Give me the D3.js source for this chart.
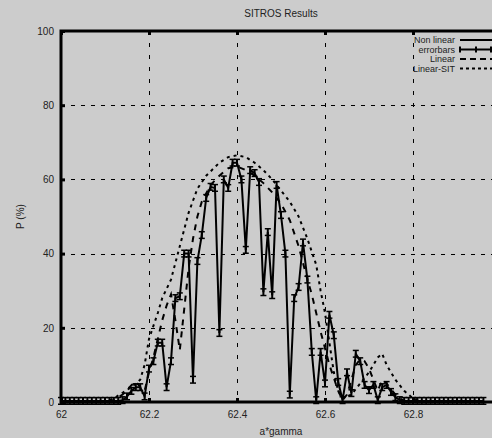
<!DOCTYPE html>
<html>
<head>
<meta charset="utf-8">
<script src="https://cdn.jsdelivr.net/npm/d3@7"></script>
<style>
  body { margin: 0; background: #cccccc; }
  svg { display: block; font-family: "Liberation Sans", Arial, sans-serif; }
</style>
</head>
<body>
<div id="chart"></div>
<script>
// values
var xTicks = [62, 62.2, 62.4, 62.6, 62.8];
var yTicks = [0, 20, 40, 60, 80, 100];
var legendNames = ['Non linear', 'errorbars', 'Linear', 'Linear-SIT'];

// non linear result, one point every 0.01
var nlX = [62.00, 62.01, 62.02, 62.03, 62.04, 62.05, 62.06, 62.07, 62.08, 62.09,
  62.10, 62.11, 62.12, 62.13, 62.14, 62.15, 62.16, 62.17, 62.18, 62.19,
  62.20, 62.21, 62.22, 62.23, 62.24, 62.25, 62.26, 62.27, 62.28, 62.29,
  62.30, 62.31, 62.32, 62.33, 62.34, 62.35, 62.36, 62.37, 62.38, 62.39,
  62.40, 62.41, 62.42, 62.43, 62.44, 62.45, 62.46, 62.47, 62.48, 62.49,
  62.50, 62.51, 62.52, 62.53, 62.54, 62.55, 62.56, 62.57, 62.58, 62.59,
  62.60, 62.61, 62.62, 62.63, 62.64, 62.65, 62.66, 62.67, 62.68, 62.69,
  62.70, 62.71, 62.72, 62.73, 62.74, 62.75, 62.76, 62.77, 62.78, 62.79,
  62.80, 62.81, 62.82, 62.83, 62.84, 62.85, 62.86, 62.87, 62.88, 62.89,
  62.90, 62.91, 62.92, 62.93, 62.94, 62.95, 62.96];
var nlY = [0.3, 0.3, 0.3, 0.3, 0.3, 0.3, 0.3, 0.3, 0.3, 0.3,
  0.3, 0.3, 0.3, 0.3, 0.5, 1.5, 3, 4, 4, 1.5,
  9, 11, 16, 16, 4, 11, 28, 28.5, 40, 40,
  6, 38, 45, 55, 58, 57.7, 18.6, 60, 57.7, 64.5,
  64.5, 60, 41, 62.5, 61.7, 59.3, 29.6, 45.8, 28.8, 58.5,
  50.4, 40, 2, 28, 31, 43, 33, 13.5, 0.5, 13.5,
  5, 23.5, 18, 5.4, 0.5, 8, 2.4, 13, 11, 4.6,
  3.2, 4.6, 0.5, 4, 4.6, 2.7, 1.3, 0.5, 0.3, 0.3,
  0.3, 0.3, 0.3, 0.3, 0.3, 0.3, 0.3, 0.3, 0.3, 0.3,
  0.3, 0.3, 0.3, 0.3, 0.3, 0.3, 0.3];
var nlErr = 0.9;

// linear approximation
var linX = [62.00, 62.10, 62.12, 62.14, 62.16, 62.17, 62.18, 62.19, 62.20, 62.21,
  62.22, 62.23, 62.24, 62.25, 62.26, 62.27, 62.28, 62.29, 62.30, 62.31,
  62.32, 62.34, 62.36, 62.38, 62.40, 62.42, 62.44, 62.46, 62.48, 62.50,
  62.52, 62.54, 62.56, 62.57, 62.59, 62.61, 62.63, 62.64, 62.65, 62.66,
  62.67, 62.68, 62.69, 62.70, 62.71, 62.72, 62.73, 62.74, 62.75, 62.76,
  62.77, 62.78, 62.79, 62.96];
var linY = [0, 0, 0.5, 2, 4.5, 5.5, 4, 3, 8, 12,
  17, 22, 26, 29, 22, 14, 25, 36, 44, 50,
  54, 58.5, 61, 63, 63.5, 62.5, 61, 59, 56.5, 53.5,
  49, 42, 33, 29, 19, 10, 3, 0.5, 2, 6,
  10, 11.5, 11, 9, 6, 3, 6, 5, 3.5, 2,
  1, 0.3, 0, 0];

// linear-SIT approximation
var sitX = [62.00, 62.10, 62.12, 62.14, 62.16, 62.18, 62.19, 62.20, 62.22, 62.23,
  62.25, 62.27, 62.29, 62.31, 62.33, 62.36, 62.38, 62.40, 62.42, 62.44,
  62.46, 62.48, 62.50, 62.52, 62.54, 62.56, 62.58, 62.59, 62.60, 62.61,
  62.62, 62.63, 62.64, 62.66, 62.68, 62.70, 62.72, 62.73, 62.74, 62.76,
  62.78, 62.80, 62.82, 62.96];
var sitY = [0, 0, 1, 2.5, 4, 6, 10, 17, 24, 28,
  33, 42, 51, 57.5, 61, 64.5, 66, 66.5, 66, 64.5,
  62.5, 60, 57, 54, 50, 44, 37, 30, 24, 16,
  8, 3, 1, 2, 5, 8, 12, 13, 10, 6,
  3, 1, 0.3, 0];

var W = 492, H = 438;
var mL = 61, mR = 501, mT = 31, mB = 402;

var x = d3.scaleLinear().domain([62, 63]).range([mL, mR]);
var y = d3.scaleLinear().domain([0, 100]).range([mB, mT]);

var svg = d3.select('#chart')
  .append('svg')
  .attr('width', W)
  .attr('height', H);

svg.append('rect')
  .attr('width', W)
  .attr('height', H)
  .attr('fill', '#cccccc');

// grid
var grid = svg.append('g').attr('class', 'grid');
grid.selectAll('line.gx')
  .data(xTicks.slice(1))
  .enter().append('line')
  .attr('x1', function(d) { return Math.round(x(d)) + 0.5; })
  .attr('x2', function(d) { return Math.round(x(d)) + 0.5; })
  .attr('y1', y(100))
  .attr('y2', y(0))
  .attr('stroke', '#000')
  .attr('stroke-dasharray', '4,8');
grid.selectAll('line.gy')
  .data(yTicks.slice(1, -1))
  .enter().append('line')
  .attr('x1', x(62))
  .attr('x2', x(63))
  .attr('y1', function(d) { return Math.round(y(d)) + 0.5; })
  .attr('y2', function(d) { return Math.round(y(d)) + 0.5; })
  .attr('stroke', '#000')
  .attr('stroke-dasharray', '4,6');

// axes
var xAxis = svg.append('g')
  .attr('transform', 'translate(0,' + mB + ')')
  .call(d3.axisBottom(x).tickValues(xTicks).tickSize(-4).tickPadding(9)
    .tickFormat(function(d) { return String(d); }));
var xTop = svg.append('g')
  .attr('transform', 'translate(0,' + mT + ')')
  .call(d3.axisTop(x).tickValues(xTicks).tickSize(-4).tickFormat(''));
var yAxis = svg.append('g')
  .attr('transform', 'translate(' + mL + ',0)')
  .call(d3.axisLeft(y).tickValues(yTicks).tickSize(-4).tickPadding(7));

[xAxis, xTop, yAxis].forEach(function(g) {
  g.select('.domain').remove();
  g.selectAll('.tick line').attr('stroke', '#000').attr('stroke-width', 3);
  g.selectAll('.tick text')
    .attr('fill', '#222')
    .style('font-size', '10px')
    .style('font-family', '"Liberation Sans", Arial, sans-serif');
});

// frame
svg.append('path')
  .attr('d', 'M' + mR + ',' + mB + 'H' + mL + 'V' + mT + 'H' + mR)
  .attr('fill', 'none')
  .attr('stroke', '#000')
  .attr('stroke-width', 3);

// labels
svg.append('text')
  .text('SITROS Results')
  .attr('x', (mL + mR) / 2)
  .attr('y', 17)
  .attr('text-anchor', 'middle')
  .style('font-size', '10px')
  .attr('fill', '#222');
svg.append('text')
  .text('a*gamma')
  .attr('x', (mL + mR) / 2)
  .attr('y', 435)
  .attr('text-anchor', 'middle')
  .style('font-size', '10px')
  .attr('fill', '#222');
svg.append('text')
  .text('P (%)')
  .attr('transform', 'translate(24,' + (mT + mB) / 2 + ') rotate(-90)')
  .attr('text-anchor', 'middle')
  .style('font-size', '10px')
  .attr('fill', '#222');

// series
var series = svg.append('g');

var linLine = d3.line()
  .x(function(d, i) { return x(linX[i]); })
  .y(function(d) { return y(d); });
series.append('path')
  .attr('d', linLine(linY))
  .attr('fill', 'none')
  .attr('stroke', '#000')
  .attr('stroke-width', 2)
  .attr('stroke-dasharray', '6,6');

var sitLine = d3.line()
  .x(function(d, i) { return x(sitX[i]); })
  .y(function(d) { return y(d); });
series.append('path')
  .attr('d', sitLine(sitY))
  .attr('fill', 'none')
  .attr('stroke', '#000')
  .attr('stroke-width', 2)
  .attr('stroke-dasharray', '3,4');

var nlLine = d3.line()
  .x(function(d, i) { return x(nlX[i]); })
  .y(function(d) { return y(d); });
series.append('path')
  .attr('d', nlLine(nlY))
  .attr('fill', 'none')
  .attr('stroke', '#000')
  .attr('stroke-width', 2);

// error bars
var eb = series.selectAll('g.eb')
  .data(nlY)
  .enter().append('g')
  .attr('transform', function(d, i) { return 'translate(' + x(nlX[i]) + ',0)'; });
eb.append('line')
  .attr('y1', function(d) { return y(d - nlErr); })
  .attr('y2', function(d) { return y(d + nlErr); })
  .attr('stroke', '#000').attr('stroke-width', 2);
eb.append('line')
  .attr('x1', -3).attr('x2', 3)
  .attr('y1', function(d) { return y(d - nlErr); })
  .attr('y2', function(d) { return y(d - nlErr); })
  .attr('stroke', '#000').attr('stroke-width', 1.5);
eb.append('line')
  .attr('x1', -3).attr('x2', 3)
  .attr('y1', function(d) { return y(d + nlErr); })
  .attr('y2', function(d) { return y(d + nlErr); })
  .attr('stroke', '#000').attr('stroke-width', 1.5);

// legend
var legend = svg.append('g').attr('transform', 'translate(455,0)');
var rows = legend.selectAll('g.row')
  .data(legendNames)
  .enter().append('g')
  .attr('transform', function(d, i) { return 'translate(0,' + (40 + i * 9.5) + ')'; });
rows.append('text')
  .text(function(d) { return d; })
  .attr('text-anchor', 'end')
  .attr('dy', '0.35em')
  .style('font-size', '9px')
  .attr('fill', '#222');
rows.filter(function(d, i) { return i !== 1; })
  .append('line')
  .attr('x1', 5).attr('x2', 40)
  .attr('stroke', '#000')
  .attr('stroke-width', 2)
  .attr('stroke-dasharray', function(d, i) { return [null, '6,4', '3,3'][i]; });
var ebRow = rows.filter(function(d, i) { return i === 1; });
ebRow.append('line').attr('x1', 5).attr('x2', 40).attr('stroke', '#000').attr('stroke-width', 2);
[5, 21, 36].forEach(function(px) {
  ebRow.append('line').attr('x1', px).attr('x2', px).attr('y1', -3).attr('y2', 3)
    .attr('stroke', '#000').attr('stroke-width', 2);
});
</script>
</body>
</html>
